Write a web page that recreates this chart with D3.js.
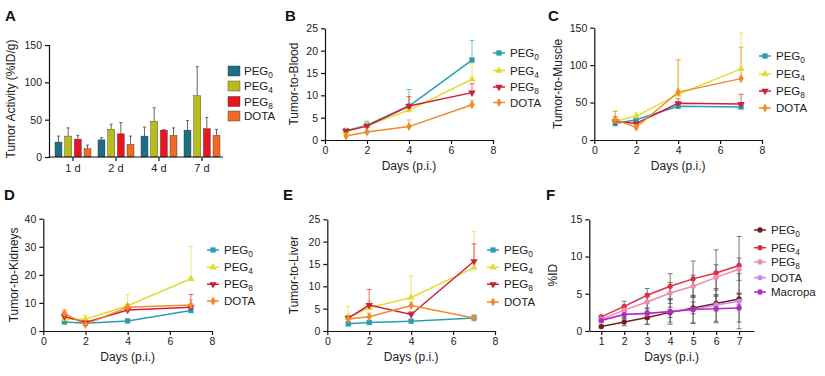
<!DOCTYPE html>
<html><head><meta charset="utf-8">
<script src="https://cdn.jsdelivr.net/npm/d3@7"></script>
<style>body{margin:0;background:#fff}svg{display:block}text{font-family:"Liberation Sans",Arial,sans-serif;fill:#222}</style>
</head><body><svg id="c" width="825" height="376"></svg>
<script>
// ---------- DATA ----------
const seriesNames = ["PEG0","PEG4","PEG8","DOTA"];
const seriesF = ["PEG0","PEG4","PEG8","DOTA","Macropa"];
// Panel A (bars)
const catA = ["1 d","2 d","4 d","7 d"];
const barPEG0 = [20,23,28,36], barPEG0err = [8,3,12,13];
const barPEG4 = [28,37,48,82], barPEG4err = [11,7,18,39];
const barPEG8 = [24,31,36,38], barPEG8err = [5,15,0.5,15];
const barDOTA = [11,17,29,29], barDOTAerr = [5,11,10,8];
const daysBE = [1,2,4,7];
// Panel B Tumor-to-Blood
const bPEG0=[2.1,3.3,7.6,17.9], bPEG0e=[0.5,0.9,3.7,4.4];
const bPEG4=[1.9,3.2,6.7,13.6], bPEG4e=[0.5,0.8,2.5,3.5];
const bPEG8=[2.0,3.1,7.6,10.6], bPEG8e=[0.6,0.6,2.1,2.0];
const bDOTA=[0.9,1.8,3.0,7.9], bDOTAe=[0.3,0.4,1.5,1.0];
// Panel C Tumor-to-Muscle
const cPEG0=[22,27,45,44], cPEG0e=[4,4,5,3];
const cPEG4=[25,32,61,95], cPEG4e=[14,5,46,48];
const cPEG8=[25,22,49,48], cPEG8e=[6,5,6,13];
const cDOTA=[27,17,64,82], cDOTAe=[11,5,43,42];
// Panel D Tumor-to-Kidneys
const dPEG0=[3.2,2.8,3.6,7.3], dPEG0e=[0.6,0.5,0.5,0.8];
const dPEG4=[4.3,4.2,9.0,18.6], dPEG4e=[1.5,1.3,4.0,11.5];
const dPEG8=[5.2,3.0,7.5,8.5], dPEG8e=[1.5,0.8,1.0,4.5];
const dDOTA=[6.3,2.3,8.5,9.3], dDOTAe=[1.2,0.8,1.0,1.8];
// Panel E Tumor-to-Liver
const ePEG0=[1.6,1.9,2.2,2.9], ePEG0e=[0.3,0.3,0.3,0.7];
const ePEG4=[3.0,5.2,7.5,14.2], ePEG4e=[2.5,1.5,4.8,8.1];
const ePEG8=[2.9,5.8,3.7,15.6], ePEG8e=[0.6,3.5,0.6,3.9];
const eDOTA=[2.7,3.2,5.7,2.9], eDOTAe=[0.6,0.8,0.8,0.5];
// Panel F %ID
const daysF=[1,2,3,4,5,6,7];
const fPEG0=[0.6,1.2,1.8,2.5,3.1,3.7,4.3], fPEG0e=[0.2,0.5,0.9,0.7,0.8,1.0,0.8];
const fPEG4=[1.9,3.3,4.8,6.0,7.0,7.8,8.8], fPEG4e=[0.2,0.7,0.9,1.7,2.4,3.1,3.9];
const fPEG8=[1.6,2.8,3.9,5.1,6.0,7.2,8.3], fPEG8e=[0.3,0.5,0.8,1.4,1.5,1.7,1.5];
const fDOTA=[1.5,2.2,2.3,2.7,2.9,3.5,4.0], fDOTAe=[0.2,0.4,0.7,1.5,1.8,2.2,3.7];
const fMac=[1.4,2.2,2.4,2.6,2.9,3.0,3.1], fMace=[0.3,0.6,1.5,1.7,1.9,1.9,1.9];

// ---------- STYLE ----------
const barColors=["#1d6f87","#b9bd1c","#e8151d","#f26a24"];
const lineColors=["#2a9db5","#e3dc33","#d01f3a","#f08a2a"];
const markers=[d3.symbolSquare,d3.symbolTriangle,d3.symbolTriangle,d3.symbolDiamond];
const fColors=["#7a1a1f","#df2f48","#f08ab0","#c98fe6","#b22ac8"];

const svg=d3.select("#c");

function letter(t,x,y){svg.append("text").attr("x",x).attr("y",y).attr("font-size",15).attr("font-weight","bold").style("fill","#111").text(t);}
function subLabel(sel,name){
  const m=name.match(/^PEG(\d)$/);
  if(m){sel.text("PEG");sel.append("tspan").attr("font-size","0.72em").attr("dy",3).text(m[1]);}
  else sel.text(name);
}
function styleAxis(g){g.selectAll("path,line").attr("stroke","#111").attr("stroke-width",1.2);g.selectAll("text").attr("font-size",10.5).style("fill","#222");}
function yTitle(t,x,yc){svg.append("text").attr("transform",`translate(${x},${yc}) rotate(-90)`).attr("text-anchor","middle").attr("font-size",12).text(t);}
function xTitle(t,xc,y){svg.append("text").attr("x",xc).attr("y",y).attr("text-anchor","middle").attr("font-size",12).text(t);}

// ---------- PANEL A ----------
letter("A",5,21);
{
  const y=d3.scaleLinear().domain([0,150]).range([157,45]);
  const x=d3.scaleBand().domain(catA).range([51.5,223.5]);
  const inner=d3.scaleBand().domain(seriesNames).range([0,36]).paddingInner(0.28);
  const vals=[barPEG0,barPEG4,barPEG8,barDOTA], errs=[barPEG0err,barPEG4err,barPEG8err,barDOTAerr];
  const g=svg.append("g");
  catA.forEach((c,i)=>{
    const x0=x(c)+x.bandwidth()/2-18;
    seriesNames.forEach((s,j)=>{
      const bx=x0+inner(s), bw=inner.bandwidth(), v=vals[j][i], e=errs[j][i];
      g.append("line").attr("x1",bx+bw/2).attr("x2",bx+bw/2).attr("y1",y(v)).attr("y2",y(v+e)).attr("stroke","#555").attr("stroke-width",0.9);
      g.append("line").attr("x1",bx+bw/2-1.5).attr("x2",bx+bw/2+1.5).attr("y1",y(v+e)).attr("y2",y(v+e)).attr("stroke","#555").attr("stroke-width",0.9);
      g.append("rect").attr("x",bx).attr("y",y(v)).attr("width",bw).attr("height",y(0)-y(v)).attr("fill",barColors[j]).attr("stroke","#333").attr("stroke-width",0.4);
    });
  });
  const ya=svg.append("g").attr("transform","translate(49,0)").call(d3.axisLeft(y).tickValues([0,50,100,150]).tickSize(4).tickPadding(3));
  styleAxis(ya);
  const xa=svg.append("g").attr("transform","translate(0,157)").call(d3.axisBottom(x).tickSize(4).tickPadding(3));
  xa.select(".domain").attr("d","M49,0H223");
  styleAxis(xa);
  xa.selectAll("text").attr("font-size",11);
  yTitle("Tumor Activity (%ID/g)",15,99);
  const lg=svg.append("g");
  seriesNames.forEach((s,j)=>{
    const yy=[71,86,101.5,116][j];
    lg.append("rect").attr("x",228).attr("y",yy-5).attr("width",12).attr("height",10).attr("fill",barColors[j]).attr("stroke","#333").attr("stroke-width",0.4);
    subLabel(lg.append("text").attr("x",244).attr("y",yy+4).attr("font-size",11.5),s);
  });
}

// ---------- LINE PANELS ----------
function linePanel(opt){
  const x=d3.scaleLinear().domain(opt.xd).range(opt.xr);
  const y=d3.scaleLinear().domain(opt.yd).range(opt.yr);
  const g=svg.append("g");
  const line=d3.line().x((d,i)=>x(opt.days[i])).y(d=>y(d));
  opt.series.forEach((vals,j)=>{
    const col=opt.colors[j], ecol=opt.errColor||col, e=opt.errs[j];
    vals.forEach((v,i)=>{
      const xx=x(opt.days[i]);
      const lo=opt.both?v-e[i]:v;
      g.append("line").attr("x1",xx).attr("x2",xx).attr("y1",y(lo)).attr("y2",y(v+e[i])).attr("stroke",ecol).attr("stroke-width",0.9).attr("opacity",opt.both?0.85:0.75);
      [v+e[i]].concat(opt.both?[v-e[i]]:[]).forEach(t=>g.append("line").attr("x1",xx-2.5).attr("x2",xx+2.5).attr("y1",y(t)).attr("y2",y(t)).attr("stroke",ecol).attr("stroke-width",0.9).attr("opacity",opt.both?0.85:0.75));
    });
  });
  opt.series.forEach((vals,j)=>{
    const col=opt.colors[j];
    g.append("path").datum(vals).attr("d",line).attr("fill","none").attr("stroke",col).attr("stroke-width",1.5);
    vals.forEach((v,i)=>{
      const sym=opt.markers?opt.markers[j]:d3.symbolCircle;
      const rot=(opt.markers&&j===2)?180:0;
      g.append("path").attr("d",d3.symbol().type(sym).size(opt.markers?(j===0?28:24):22)())
        .attr("transform",`translate(${x(opt.days[i])},${y(v)}) rotate(${rot})`).attr("fill",col);
    });
  });
  const xa=svg.append("g").attr("transform",`translate(0,${opt.yr[0]})`).call(d3.axisBottom(x).tickValues(opt.xt).tickSize(4).tickPadding(3).tickSizeOuter(0));
  styleAxis(xa);
  const ya=svg.append("g").attr("transform",`translate(${opt.xr[0]},0)`).call(d3.axisLeft(y).tickValues(opt.yt).tickSize(4).tickPadding(3).tickSizeOuter(0));
  styleAxis(ya);
  yTitle(opt.ytitle,opt.ytx,(opt.yr[0]+opt.yr[1])/2);
  xTitle(opt.xtitle,(opt.xr[0]+opt.xr[1])/2,opt.yr[0]+30);
  const lg=svg.append("g");
  opt.names.forEach((s,j)=>{
    const yy=opt.ly[j];
    lg.append("line").attr("x1",opt.lx).attr("x2",opt.lx+12).attr("y1",yy).attr("y2",yy).attr("stroke",opt.colors[j]).attr("stroke-width",1.5);
    const sym=opt.markers?opt.markers[j]:d3.symbolCircle;
    lg.append("path").attr("d",d3.symbol().type(sym).size(opt.markers?(j===0?28:24):22)())
      .attr("transform",`translate(${opt.lx+6},${yy}) rotate(${(opt.markers&&j===2)?180:0})`).attr("fill",opt.colors[j]);
    subLabel(lg.append("text").attr("x",opt.lx+17).attr("y",yy+4).attr("font-size",11.5),s);
  });
}

letter("B",285,21);
linePanel({xd:[0,8],xr:[325,493],yd:[0,25],yr:[140,28.3],xt:[0,2,4,6,8],yt:[0,5,10,15,20,25],days:daysBE,
  series:[bPEG0,bPEG4,bPEG8,bDOTA],errs:[bPEG0e,bPEG4e,bPEG8e,bDOTAe],colors:lineColors,markers,names:seriesNames,
  ytitle:"Tumor-to-Blood",ytx:298,xtitle:"Days (p.i.)",lx:493,ly:[53,70.5,87,102.5]});

letter("C",548,21);
linePanel({xd:[0,8],xr:[594.3,762],yd:[0,150],yr:[140,27.7],xt:[0,2,4,6,8],yt:[0,50,100,150],days:daysBE,
  series:[cPEG0,cPEG4,cPEG8,cDOTA],errs:[cPEG0e,cPEG4e,cPEG8e,cDOTAe],colors:lineColors,markers,names:seriesNames,
  ytitle:"Tumor-to-Muscle",ytx:562,xtitle:"Days  (p.i.)",lx:759,ly:[56,74,91,108]});

letter("D",4,200);
linePanel({xd:[0,8],xr:[43.3,212],yd:[0,40],yr:[331,218.7],xt:[0,2,4,6,8],yt:[0,10,20,30,40],days:daysBE,
  series:[dPEG0,dPEG4,dPEG8,dDOTA],errs:[dPEG0e,dPEG4e,dPEG8e,dDOTAe],colors:lineColors,markers,names:seriesNames,
  ytitle:"Tumor-to-Kidneys",ytx:18,xtitle:"Days (p.i.)",lx:207,ly:[250,267.3,284.3,301]});

letter("E",283,200);
linePanel({xd:[0,8],xr:[327.3,495],yd:[0,25],yr:[331,219.3],xt:[0,2,4,6,8],yt:[0,5,10,15,20,25],days:daysBE,
  series:[ePEG0,ePEG4,ePEG8,eDOTA],errs:[ePEG0e,ePEG4e,ePEG8e,eDOTAe],colors:lineColors,markers,names:seriesNames,
  ytitle:"Tumor-to-Liver",ytx:298,xtitle:"Days (p.i.)",lx:487,ly:[250,267.3,284.3,302]});

letter("F",546,200);
linePanel({xd:[0.48,7.65],xr:[589.3,754],yd:[0,15],yr:[331,219.3],xt:[1,2,3,4,5,6,7],yt:[0,5,10,15],days:daysF,both:true,errColor:"#555",
  series:[fPEG0,fPEG4,fPEG8,fDOTA,fMac],errs:[fPEG0e,fPEG4e,fPEG8e,fDOTAe,fMace],colors:fColors,markers:null,names:seriesF,
  ytitle:"%ID",ytx:557,xtitle:"Days (p.i.)",lx:754,ly:[230,247.7,262,277.7,292]});
</script></body></html>
